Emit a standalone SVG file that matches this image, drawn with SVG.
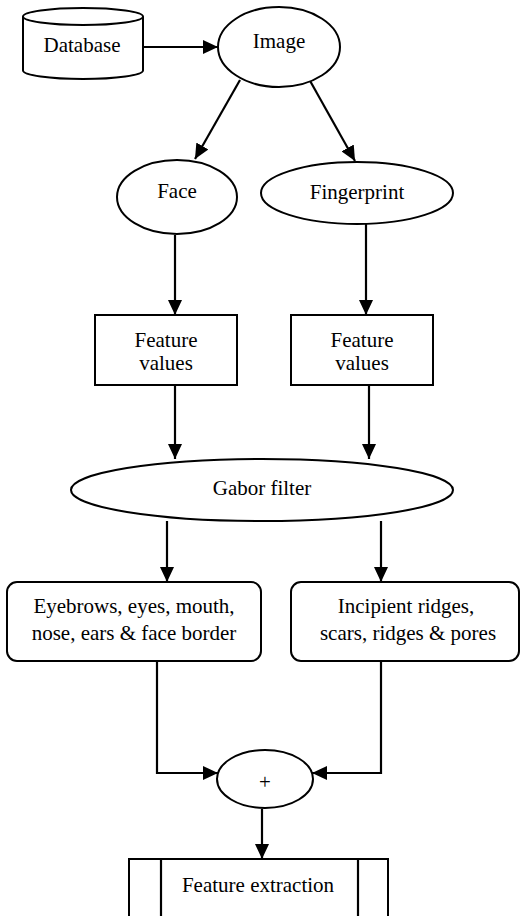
<svg xmlns="http://www.w3.org/2000/svg" width="521" height="916" viewBox="0 0 521 916">
<style>
.s{fill:#fff;stroke:#000;stroke-width:2}
.t{font-family:"Liberation Serif","Times New Roman",serif;font-size:21px;fill:#000;text-anchor:middle}
.c{fill:none;stroke:#000;stroke-width:2.2}
</style>
<defs>
<marker id="ah" markerUnits="userSpaceOnUse" markerWidth="15" markerHeight="14" refX="15" refY="7" orient="auto">
<path d="M0,0 L15,7 L0,14 z" fill="#000"/>
</marker>
</defs>
<rect width="521" height="916" fill="#fff"/>
<g id="connectors">
<line class="c" x1="143" y1="47" x2="218" y2="47" marker-end="url(#ah)"/>
<line class="c" x1="240" y1="80" x2="195" y2="159" marker-end="url(#ah)"/>
<line class="c" x1="309" y1="79" x2="355" y2="161" marker-end="url(#ah)"/>
<line class="c" x1="175" y1="235" x2="175" y2="315" marker-end="url(#ah)"/>
<line class="c" x1="366" y1="224" x2="366" y2="315" marker-end="url(#ah)"/>
<line class="c" x1="175" y1="385" x2="175" y2="459" marker-end="url(#ah)"/>
<line class="c" x1="369" y1="385" x2="369" y2="459" marker-end="url(#ah)"/>
<line class="c" x1="167" y1="521" x2="167" y2="582" marker-end="url(#ah)"/>
<line class="c" x1="381" y1="521" x2="381" y2="582" marker-end="url(#ah)"/>
<polyline class="c" points="157,662 157,773 218,773" marker-end="url(#ah)"/>
<polyline class="c" points="381,662 381,773 312,773" marker-end="url(#ah)"/>
<line class="c" x1="262" y1="809" x2="262" y2="859" marker-end="url(#ah)"/>
</g>
<g id="database">
<path class="s" d="M23,16.5 L23,70.5 A60,8.5 0 0 0 143,70.5 L143,16.5"/>
<ellipse class="s" cx="83" cy="16.5" rx="60" ry="8.5"/>
<text class="t" x="82" y="52">Database</text>
</g>
<g id="image">
<ellipse class="s" cx="279" cy="47" rx="61" ry="40"/>
<text class="t" x="279" y="48">Image</text>
</g>
<g id="face">
<ellipse class="s" cx="177" cy="197" rx="60" ry="37"/>
<text class="t" x="177" y="198">Face</text>
</g>
<g id="fingerprint">
<ellipse class="s" cx="357" cy="193" rx="96" ry="31"/>
<text class="t" x="357" y="199">Fingerprint</text>
</g>
<g id="fv1">
<rect class="s" x="95" y="315" width="142" height="70"/>
<text class="t" x="166" y="347">Feature</text>
<text class="t" x="166" y="370">values</text>
</g>
<g id="fv2">
<rect class="s" x="291" y="315" width="142" height="70"/>
<text class="t" x="362" y="347">Feature</text>
<text class="t" x="362" y="370">values</text>
</g>
<g id="gabor">
<ellipse class="s" cx="262" cy="490" rx="191" ry="31"/>
<text class="t" x="262" y="495">Gabor filter</text>
</g>
<g id="faceparts">
<rect class="s" x="7" y="582" width="254" height="79" rx="10" ry="10"/>
<text class="t" x="134" y="613">Eyebrows, eyes, mouth,</text>
<text class="t" x="134" y="640">nose, ears &amp; face border</text>
</g>
<g id="fpparts">
<rect class="s" x="291" y="582" width="228" height="79" rx="10" ry="10"/>
<text class="t" x="406" y="613">Incipient ridges,</text>
<text class="t" x="408" y="640">scars, ridges &amp; pores</text>
</g>
<g id="plus">
<ellipse class="s" cx="265" cy="779" rx="48" ry="29"/>
<text class="t" x="265" y="789">+</text>
</g>
<g id="extraction">
<rect class="s" x="129" y="859" width="259" height="80"/>
<line class="c" x1="161" y1="859" x2="161" y2="916"/>
<line class="c" x1="358" y1="859" x2="358" y2="916"/>
<text class="t" x="258" y="892">Feature extraction</text>
</g>
</svg>
